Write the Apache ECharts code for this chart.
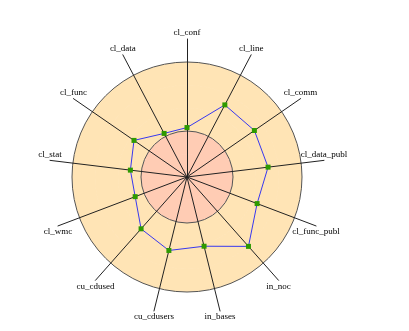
<!DOCTYPE html>
<html>
<head>
<meta charset="utf-8">
<script src="https://cdn.jsdelivr.net/npm/echarts@6/dist/echarts.min.js"></script>
<style>
html,body{margin:0;padding:0;background:#fff;}
#chart{width:409px;height:331px;}
</style>
</head>
<body>
<div id="chart"></div>
<script>
// Axis names, listed clockwise starting from the top
const axisNames = ['cl_conf','cl_line','cl_comm','cl_data_publ','cl_func_publ','in_noc','in_bases','cu_cdusers','cu_cdused','cl_wmc','cl_stat','cl_func','cl_data'];
// Series values (same clockwise order)
const values = [2.15, 3.54, 3.56, 3.55, 3.26, 4.03, 3.10, 3.29, 3.01, 2.41, 2.48, 2.80, 2.14];
const axisMax = 6;

// ECharts radar places indicators counter-clockwise: reorder
const order = [0];
for (let i = axisNames.length - 1; i >= 1; i--) order.push(i);
const ccwNames = order.map(i => axisNames[i]);
const ccwValues = order.map(i => values[i]);
const n = ccwNames.length;
const upper = {};
ccwNames.forEach((nm, i) => {
  const a = (90 + i * 360 / n) * Math.PI / 180;
  upper[nm] = Math.sin(a) > 0;
});

const innerFill = '#FFCCB4';
const outerFill = '#FFE4B5';
const font = 'Liberation Serif';
const chart = echarts.init(document.getElementById('chart'), null, {renderer: 'canvas'});
chart.setOption({
  backgroundColor: '#ffffff',
  animation: false,
  radar: {
    center: [187, 177],
    radius: 138,
    startAngle: 90,
    shape: 'circle',
    splitNumber: 6,
    axisNameGap: 0,
    indicator: ccwNames.map(nm => ({name: nm, max: axisMax, min: 0})),
    axisName: {
      color: '#000',
      fontFamily: font,
      fontSize: 9,
      align: 'center',
      verticalAlign: 'middle',
      formatter: function (name) {
        return (upper[name] ? '{u|' : '{d|') + name + '}';
      },
      rich: {
        u: {fontFamily: font, fontSize: 9, color: '#000', lineHeight: 11, padding: [0, 0, 12, 0]},
        d: {fontFamily: font, fontSize: 9, color: '#000', lineHeight: 11, padding: [12, 0, 0, 0]}
      }
    },
    axisLine: {show: true, lineStyle: {color: '#222', width: 1}},
    axisTick: {show: false},
    axisLabel: {show: false},
    splitLine: {
      show: true,
      lineStyle: {
        color: ['rgba(0,0,0,0)', innerFill, '#555', outerFill, outerFill, '#555', 'rgba(0,0,0,0)'],
        width: 1
      }
    },
    splitArea: {
      show: true,
      areaStyle: {
        color: [innerFill, innerFill, outerFill, outerFill, outerFill, 'rgba(0,0,0,0)']
      }
    }
  },
  series: [{
    type: 'radar',
    symbol: 'rect',
    symbolSize: 5,
    itemStyle: {color: '#2E9A00'},
    lineStyle: {color: '#3838F0', width: 1},
    data: [{value: ccwValues, name: 'values'}]
  }]
});
</script>
</body>
</html>
